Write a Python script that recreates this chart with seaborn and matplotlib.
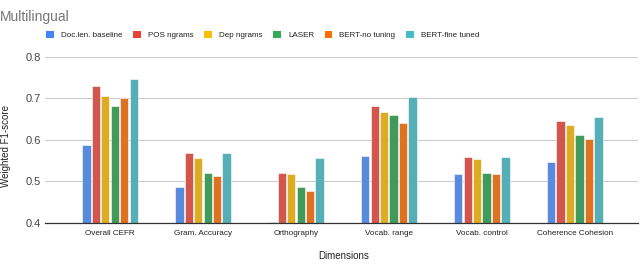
import matplotlib
matplotlib.use("Agg")
import matplotlib.pyplot as plt
import seaborn as sns
import pandas as pd
from matplotlib.patches import Patch

dimensions = ["Overall CEFR", "Gram. Accuracy", "Orthography",
              "Vocab. range", "Vocab. control", "Coherence Cohesion"]
models = ["Doc.len. baseline", "POS ngrams", "Dep ngrams", "LASER",
          "BERT-no tuning", "BERT-fine tuned"]

doc_len = [0.588, 0.486, 0.402, 0.561, 0.518, 0.546]
pos_ngrams = [0.731, 0.568, 0.520, 0.681, 0.558, 0.645]
dep_ngrams = [0.707, 0.556, 0.518, 0.668, 0.554, 0.636]
laser = [0.681, 0.520, 0.486, 0.659, 0.520, 0.611]
bert_no_tuning = [0.700, 0.512, 0.477, 0.640, 0.517, 0.601]
bert_fine = [0.746, 0.568, 0.556, 0.703, 0.559, 0.655]

colors = ["#4285F4", "#EA4335", "#FBBC04", "#34A853", "#FF6D01", "#46BDC6"]

series = [doc_len, pos_ngrams, dep_ngrams, laser, bert_no_tuning, bert_fine]
rows = []
for m, vals in zip(models, series):
    for d, v in zip(dimensions, vals):
        rows.append({"Dimension": d, "Model": m, "Score": v})
df = pd.DataFrame(rows)

sns.set_theme(style="white")
plt.rcParams['font.family'] = ['Liberation Sans', 'DejaVu Sans']

fig = plt.figure(figsize=(6.4, 2.64), dpi=100)
ax = fig.add_axes([45 / 640, 1 - 222.7 / 264, 593 / 640, (222.7 - 57) / 264])

sns.barplot(data=df, x="Dimension", y="Score", hue="Model", order=dimensions,
            hue_order=models, palette=colors, width=0.61, gap=0.12,
            ax=ax, legend=False, edgecolor="white", linewidth=0.4)

ax.set_ylim(0.4, 0.8)
ax.set_xlim(-0.70, 5.68)
ax.set_yticks([0.4, 0.5, 0.6, 0.7, 0.8])
ax.set_yticklabels(["0.4", "0.5", "0.6", "0.7", "0.8"])
ax.yaxis.grid(True, color="#cccccc", linewidth=0.8)
ax.set_axisbelow(True)
for s in ["top", "right", "left"]:
    ax.spines[s].set_visible(False)
ax.spines["bottom"].set_color("#333333")
ax.spines["bottom"].set_linewidth(0.9)
ax.tick_params(axis="y", labelsize=8, colors="#444444", length=0, pad=3)
ax.tick_params(axis="x", labelsize=5.9, colors="#222222", length=0, pad=5)
ax.set_xlabel("Dimensions", fontsize=7, color="#222222")
ax.xaxis.set_label_coords((344 - 45) / 593, -(251 - 222.7) / 165.7)
ax.set_ylabel("Weighted F1-score", fontsize=7, color="#222222")
ax.yaxis.set_label_coords((11 - 45) / 593, (222.7 - 146) / 165.7)

fig.text(0.0, 1 - 17 / 264, "Multilingual", fontsize=10, color="#757575",
         va="center", ha="left")

handles = [Patch(facecolor=c, edgecolor="none") for c in colors]
fig.legend(handles, models, loc="center left", bbox_to_anchor=(39 / 640, 1 - 35 / 264),
           ncol=6, frameon=False, fontsize=5.8, handlelength=0.95, handleheight=0.95,
           handletextpad=0.9, columnspacing=1.3, labelcolor="#222222")

fig.savefig("out.png", dpi=100)
